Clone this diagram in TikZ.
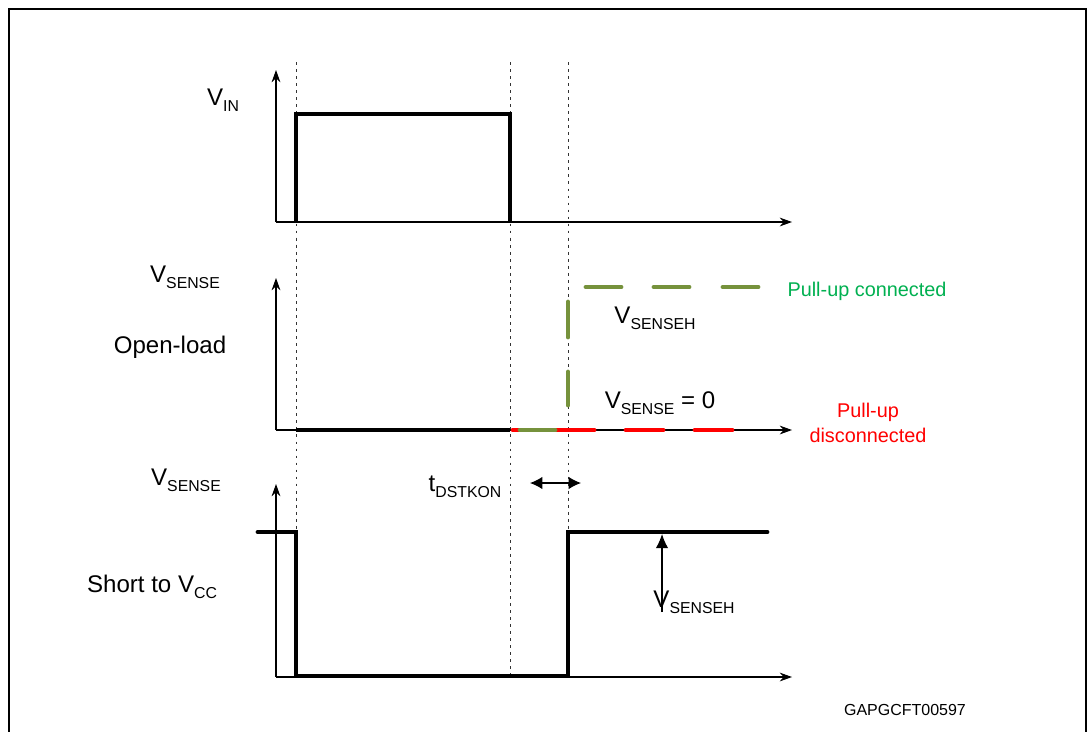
\documentclass[tikz,border=0pt]{standalone}
\usepackage{fontspec}
\setmainfont{Liberation Sans}
\usetikzlibrary{arrows.meta}
\definecolor{olivegreen}{RGB}{118,146,60}
\definecolor{pullgreen}{RGB}{0,176,80}
\newcommand\lo[1]{\raisebox{-0.45ex}{\fontsize{9}{10}\selectfont #1}}
\tikzset{
  axis/.style={line width=0.6pt, -{Stealth[length=7pt,width=5pt]}},
  signal/.style={line width=2.8pt, line cap=round},
  guide/.style={line width=0.55pt, black!80, dash pattern=on 1.6pt off 2.4pt},
  olive/.style={line width=2.8pt, olivegreen, line cap=round},
  reddash/.style={line width=2.8pt, red, line cap=round},
  lbl/.style={font=\fontsize{13.7}{15}\selectfont, inner sep=0pt},
  note/.style={font=\fontsize{11.3}{14}\selectfont, inner sep=0pt, align=center},
}
\begin{document}
\begin{tikzpicture}[x=0.02cm, y=-0.02cm]
		\useasboundingbox (0,0) rectangle (1088,731);
		%%%%% FRAME %%%%%
		\draw[line width=1.1pt] (9,9) rectangle (1086,760);

		%%%%% GUIDES %%%%%
		\draw[guide] (296,62) -- (296,676);
		\draw[guide] (510,62) -- (510,676);
		\draw[guide] (568,62) -- (568,532);

		%%%%% V_IN %%%%%
		\draw[axis] (276,222) -- (276,70);
		\draw[axis] (276,222) -- (792,222);
		\draw[signal, line cap=butt] (296,222) -- (296,114) -- (510,114) -- (510,222);
		\node[lbl] (vin) at (223,100) {V\lo{IN}};

		%%%%% OPEN-LOAD %%%%%
		\draw[axis] (276,430) -- (276,278);
		\draw[axis] (276,430) -- (792,430);
		\draw[signal, line cap=butt] (296,430) -- (510,430);
		\draw[reddash] (513,430) -- (522,430);
		\foreach \x in {557,626,695}
			\draw[reddash] (\x,430) -- (\x+37,430);
		\draw[olive] (520,430) -- (555,430);
		\draw[olive] (568,405) -- (568,372);
		\draw[olive] (568,337) -- (568,302);
		\foreach \x in {586,654,723}
			\draw[olive] (\x,287) -- (\x+35,287);
		\node[lbl] (vsense1) at (185,277) {V\lo{SENSE}};
		\node[lbl] (openload) at (170,347) {Open-load};
		\node[lbl] (vsenseh1) at (655,318) {V\lo{SENSEH}};
		\node[lbl] (vzero) at (660,403) {V\lo{SENSE} = 0};
		\node[note, text=pullgreen] (pullon) at (867,291) {Pull-up connected};
		\node[note, text=red] (pulloff) at (868,423) {Pull-up\\disconnected};

		%%%%% SHORT TO VCC %%%%%
		\draw[axis] (276,677) -- (276,484);
		\draw[axis] (276,677) -- (792,677);
		\draw[signal] (258,532) -- (296,532) -- (296,676) -- (568,676) -- (568,532) -- (767,532);
		\node[lbl] (vsense2) at (186,480) {V\lo{SENSE}};
		\node[lbl] (short) at (152,587) {Short to V\lo{CC}};
		\node[lbl] (tdst) at (465,487) {t\lo{DSTKON}};
		\coordinate (tl) at (530,483);
		\coordinate (tr) at (581,483);
		\draw[line width=0.6pt, {Latex[length=7pt,width=7pt]}-{Latex[length=7pt,width=7pt]}] (tl) -- (tr);
		\coordinate (hb) at (662,612);
		\coordinate (ht) at (662,534);
		\draw[line width=0.6pt, -{Latex[length=8pt,width=7pt]}] (hb) -- (ht);
		\node[lbl] (vsenseh2) at (694,602) {V\lo{SENSEH}};

		\node[font=\fontsize{9.1}{10}\selectfont, inner sep=0pt] (code) at (905,710) {GAPGCFT00597};
\end{tikzpicture}
\end{document}
